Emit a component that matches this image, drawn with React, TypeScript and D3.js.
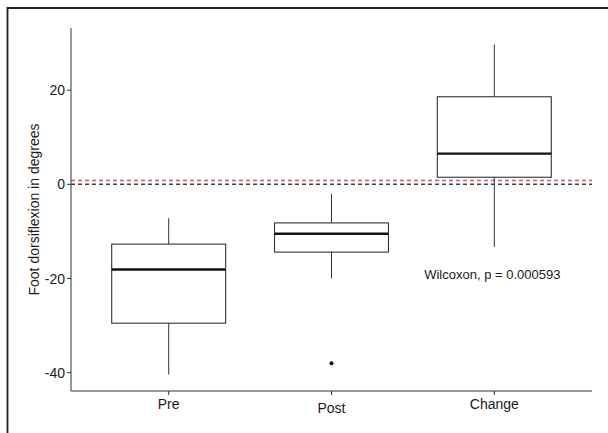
import React from "react";
import * as d3 from "d3";

const categories = ["Pre", "Post", "Change"];
const whiskerLow = [-40.4, -20.0, -13.3];
const q1 = [-29.5, -14.4, 1.5];
const median = [-18.1, -10.5, 6.5];
const q3 = [-12.7, -8.2, 18.6];
const whiskerHigh = [-7.2, -2.0, 29.7];
const outlierCats = ["Post"];
const outlierVals = [-38.0];
const yTicks = [-40, -20, 0, 20];
const refLines = [
  { value: 0.8, color: "#e05555" },
  { value: 0, color: "#444444" },
];
const annotation = "Wilcoxon, p = 0.000593";
const annotationCat = "Change";
const annotationVal = -20.2;
const yTitle = "Foot dorsiflexion in degrees";

const W = 608;
const H = 433;
const left = 71;
const right = 592;
const top = 28;
const bottom = 391;

export default function App() {
  const yMin = -40.4, yMax = 29.7;
  const pad = (yMax - yMin) * 0.05;
  const y = d3.scaleLinear().domain([yMin - pad, yMax + pad]).range([bottom, top]);
  const xl = d3.scaleLinear().domain([0.4, categories.length + 0.6]).range([left, right]);
  const boxW = 0.7;
  const cx = (c: string) => xl(categories.indexOf(c) + 1);
  const bx0 = (c: string) => xl(categories.indexOf(c) + 1 - boxW / 2);
  const bw = xl(1 + boxW) - xl(1);
  const font = "Liberation Sans, Arial, sans-serif";
  const labelDy: Record<string, number> = { Pre: 0, Post: 4, Change: 0 };

  return (
    <svg width={W} height={H} style={{ position: "absolute", left: 0, top: 0, background: "#fff" }}>
      <rect x={0} y={0} width={W} height={H} fill="#fff" />
      <path d={`M7.5,${H + 2} V8 H${W + 2}`} fill="none" stroke="#222" strokeWidth={1.8} />
      {refLines.map((r, i) => (
        <line key={i} x1={left} x2={right} y1={y(r.value)} y2={y(r.value)} stroke={r.color} strokeWidth={1.4} strokeDasharray="4,3" />
      ))}
      {categories.map((c, i) => {
        const xc = cx(c);
        const x0 = bx0(c);
        return (
          <g key={c}>
            <line x1={xc} x2={xc} y1={y(whiskerHigh[i])} y2={y(q3[i])} stroke="#333" strokeWidth={1} />
            <line x1={xc} x2={xc} y1={y(q1[i])} y2={y(whiskerLow[i])} stroke="#333" strokeWidth={1} />
            <rect x={x0} y={y(q3[i])} width={bw} height={y(q1[i]) - y(q3[i])} fill="none" stroke="#333" strokeWidth={1.1} />
            <line x1={x0} x2={x0 + bw} y1={y(median[i])} y2={y(median[i])} stroke="#111" strokeWidth={2.3} />
          </g>
        );
      })}
      {outlierVals.map((v, i) => (
        <circle key={i} cx={cx(outlierCats[i])} cy={y(v)} r={2} fill="#111" />
      ))}
      <line x1={left} x2={left} y1={top} y2={bottom} stroke="#333" strokeWidth={1} />
      <line x1={left} x2={right} y1={bottom} y2={bottom} stroke="#333" strokeWidth={1} />
      {yTicks.map((t) => (
        <g key={t}>
          <line x1={left - 4} x2={left} y1={y(t)} y2={y(t)} stroke="#333" />
          <text x={left - 6} y={y(t)} dy="0.36em" textAnchor="end" fontFamily={font} fontSize={14} fill="#1a1a1a">{t}</text>
        </g>
      ))}
      {categories.map((c) => (
        <g key={c}>
          <line x1={cx(c)} x2={cx(c)} y1={bottom} y2={bottom + 4} stroke="#333" />
          <text x={cx(c)} y={bottom + 18 + labelDy[c]} textAnchor="middle" fontFamily={font} fontSize={14} fill="#1a1a1a">{c}</text>
        </g>
      ))}
      <text transform={`translate(39,${(top + bottom) / 2}) rotate(-90)`} textAnchor="middle" fontFamily={font} fontSize={14} fill="#1a1a1a">{yTitle}</text>
      <text x={cx(annotationCat) - 2} y={y(annotationVal)} textAnchor="middle" fontFamily={font} fontSize={13} fill="#1a1a1a">{annotation}</text>
    </svg>
  );
}
